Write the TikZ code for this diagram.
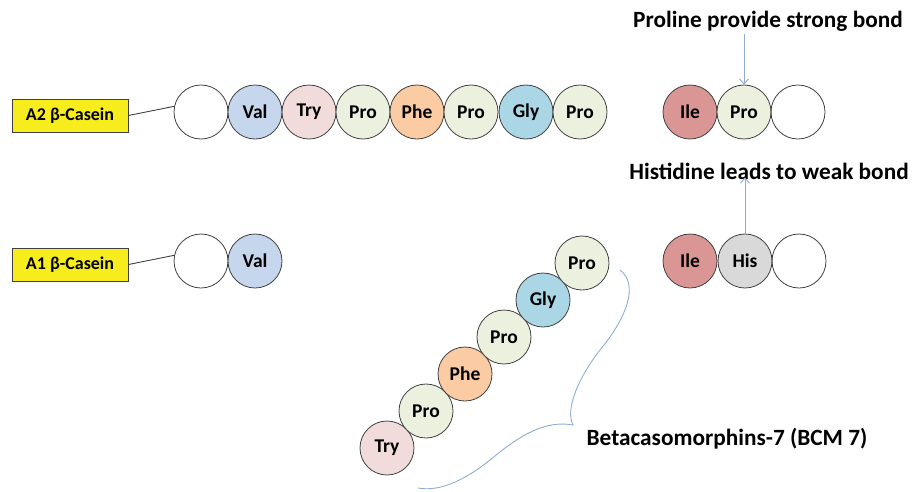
\documentclass[tikz,border=0pt]{standalone}
\usepackage{fontspec}
\setmainfont{Carlito}
\usetikzlibrary{arrows.meta}
\definecolor{cval}{HTML}{C6D6EC}
\definecolor{ctry}{HTML}{F2DCDB}
\definecolor{cpro}{HTML}{EBF1DE}
\definecolor{cphe}{HTML}{FBCBA3}
\definecolor{cgly}{HTML}{ABD6E6}
\definecolor{cile}{HTML}{D99694}
\definecolor{chis}{HTML}{D9D9D9}
\definecolor{cbox}{HTML}{F7EC1C}
\definecolor{cline}{HTML}{404040}
\definecolor{cblue}{HTML}{90ADCF}
\begin{document}
\begin{tikzpicture}[x=1pt,y=-1pt,
  aa/.style={circle,draw=cline,line width=0.8pt,minimum size=54pt,inner sep=0pt,font=\bfseries\fontsize{19.5}{19.5}\selectfont},
  lab/.style={draw=cline,line width=0.9pt,fill=cbox,minimum width=116pt,minimum height=33pt,inner sep=0pt,font=\bfseries\fontsize{18}{18}\selectfont},
  big/.style={font=\bfseries\fontsize{23.3}{23.3}\selectfont,inner sep=0pt},
  arr/.style={draw=cblue,line width=0.9pt,-{Straight Barb[length=5pt,width=9pt]}}]
\useasboundingbox (0,0) rectangle (917,491);
% row 1
\node[lab] (a2) at (70,115.5) {A2 β-Casein};
\node[aa] (r1e) at (201,112) {};
\node[aa,fill=cval] (r1val) at (255,112) {Val};
\node[aa,fill=ctry] (r1try) at (309,112) {Try};
\node[aa,fill=cpro] (r1proa) at (363,112) {Pro};
\node[aa,fill=cphe] (r1phe) at (417,112) {Phe};
\node[aa,fill=cpro] (r1prob) at (471,112) {Pro};
\node[aa,fill=cgly] (r1gly) at (526,112) {Gly};
\node[aa,fill=cpro] (r1proc) at (580,112) {Pro};
\node[aa,fill=cile] (r1ile) at (690,112) {Ile};
\node[aa,fill=cpro] (r1prod) at (744,112) {Pro};
\node[aa] (r1end) at (798,112) {};
\draw[cline,line width=0.9pt] (a2.east) -- (r1e.168);
% row 2
\node[lab] (a1) at (70,264.5) {A1 β-Casein};
\node[aa] (r2e) at (201,261) {};
\node[aa,fill=cval] (r2val) at (255,261) {Val};
\node[aa,fill=cile] (r2ile) at (690,261) {Ile};
\node[aa,fill=chis] (r2his) at (745,261) {His};
\node[aa] (r2end) at (799,261) {};
\draw[cline,line width=0.9pt] (a1.east) -- (r2e.168);
% diagonal BCM7
\node[aa,fill=ctry] (dtry) at (387,448) {Try};
\node[aa,fill=cpro] (dproa) at (426,411) {Pro};
\node[aa,fill=cphe] (dphe) at (465,374) {Phe};
\node[aa,fill=cpro] (dprob) at (504,337) {Pro};
\node[aa,fill=cgly] (dgly) at (543,300) {Gly};
\node[aa,fill=cpro] (dproc) at (582,263) {Pro};
% texts
\node[big] (t1) at (768,21) {Proline provide strong bond};
\node[big] (t2) at (769,171) {Histidine leads to weak bond};
\node[big] (t3) at (727,439) {Betacasomorphins-7 (BCM 7)};
% arrows
\draw[arr] (t1.south -| r1prod.north) ++(0,3) -- (r1prod.north);
\draw[arr] (r2his.north) -- ([yshift=2pt]t2.south -| r2his.north);
% brace
\coordinate (bt) at (620,270);
\coordinate (btip) at (573,425);
\coordinate (bend) at (418,488);
\draw[cblue,line width=0.9pt] (bt) .. controls (640,285) and (625,320) .. (600,350)
  .. controls (578,378) and (565,410) .. (btip)
  .. controls (545,420) and (520,435) .. (490,460)
  .. controls (465,480) and (440,492) .. (bend);
\end{tikzpicture}
\end{document}
